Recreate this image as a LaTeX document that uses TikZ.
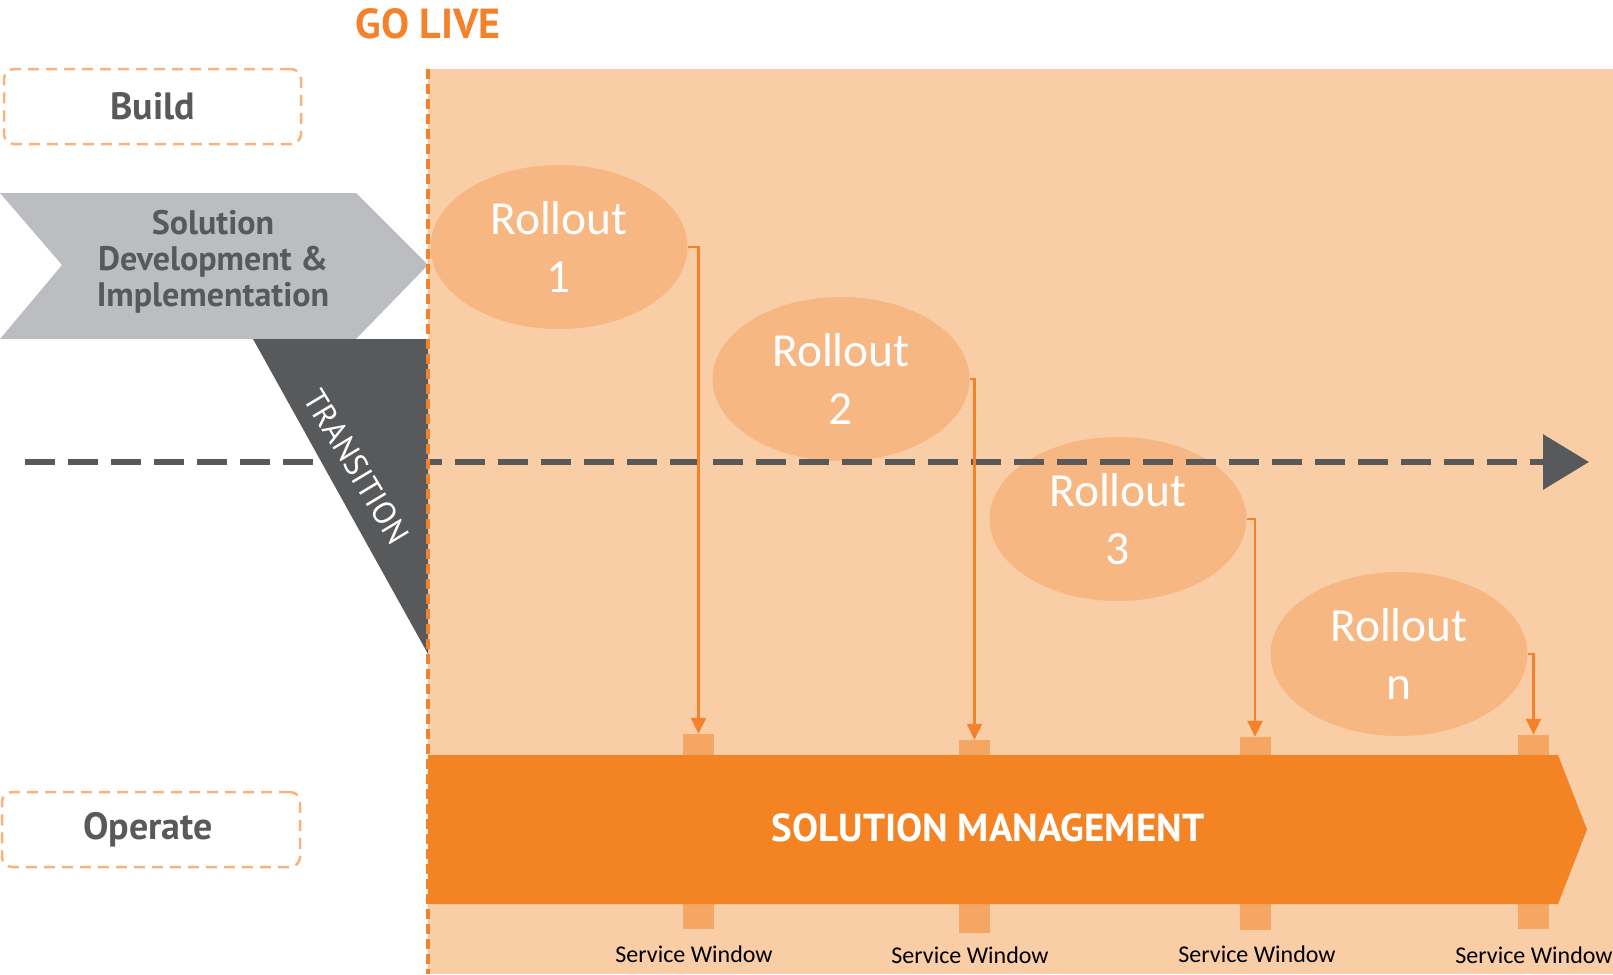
\documentclass[tikz,border=0pt]{standalone}
\usepackage{fontspec}
\setmainfont{Carlito}
\newfontfamily\dinfont{PT Sans}
\usetikzlibrary{shapes.geometric,arrows.meta}
\definecolor{peach}{HTML}{F9CDA6}
\definecolor{ellfill}{HTML}{F7B782}
\definecolor{tabfill}{HTML}{F5A663}
\definecolor{barfill}{HTML}{F48324}
\definecolor{darkgray}{HTML}{58595B}
\definecolor{lightgray}{HTML}{BCBDC0}
\definecolor{boxline}{HTML}{F8B27C}
\definecolor{golive}{HTML}{F4822A}
\begin{document}
\begin{tikzpicture}[x=1pt,y=-1pt,
  rollout/.style={ellipse, fill=ellfill, minimum width=257pt, minimum height=164pt, inner sep=0pt, text=white, align=center, font=\fontsize{47.5}{58}\selectfont},
  phasebox/.style={draw=boxline, line width=2.5pt, dash pattern=on 11pt off 7pt, rounded corners=10pt, text=darkgray, font=\dinfont\bfseries\fontsize{38}{42}\selectfont, inner sep=0pt},
  tabbox/.style={fill=tabfill, minimum width=31pt, inner sep=0pt},
  swlabel/.style={font=\fontsize{24}{27}\selectfont, text=black, inner sep=0pt},
  conn/.style={draw=golive, line width=2.2pt, -{Triangle[length=16pt,width=15pt]}}
]
\useasboundingbox (0,0) rectangle (1613,974);
% background region after go live
\fill[peach] (428,69) rectangle (1613,974);
% title
\node[anchor=base, text=golive, font=\dinfont\bfseries\fontsize{42}{46}\selectfont, inner sep=0pt] (golive) at (428,38) {GO LIVE};
% phase boxes
\node[phasebox, minimum width=297pt, minimum height=75pt] (build) at (152.5,106.5) {Build};
\node[phasebox, minimum width=298pt, minimum height=75pt] (operate) at (151,829.5) {\hspace{-6pt}Operate};
% chevron
\fill[lightgray] (0,193) -- (356,193) -- (428,265) -- (356,339) -- (0,339) -- (62,265) -- cycle;
\node[align=center, text=darkgray, font=\dinfont\bfseries\fontsize{34}{36}\selectfont, inner sep=0pt] (sol) at (213,262) {Solution\\Development \&\\Implementation};
% rollouts
\node[rollout] (r1) at (559,247) {Rollout\\1};
\node[rollout] (r2) at (841,379) {Rollout\\2};
\node[rollout] (r3) at (1118,519) {Rollout\\3};
\node[rollout] (rn) at (1399,654) {Rollout\\n};
% timeline
\coordinate (ls) at (25,462);
\coordinate (le) at (1589,462);
\draw[darkgray, line width=6.5pt, dash pattern=on 30pt off 13pt, -{Triangle[length=46pt,width=54pt]}] (ls) -- (le);
% transition triangle
\fill[darkgray] (253,339) -- (428,339) -- (428,654) -- cycle;
\node[rotate=-59, text=white, font=\dinfont\fontsize{32}{34}\selectfont, inner sep=0pt] (trans) at (357,467) {TRANSITION};
% go live line
\coordinate (gl1) at (428,69);
\coordinate (gl2) at (428,974);
\draw[golive, line width=4pt, dash pattern=on 10pt off 5pt] (gl1) -- (gl2);
% service window tabs
\node[tabbox, minimum height=21pt] (t1) at (698.5,744.5) {};
\node[tabbox, minimum height=15pt] (t2) at (974.5,747.5) {};
\node[tabbox, minimum height=18pt] (t3) at (1255,746) {};
\node[tabbox, minimum height=20pt] (tn) at (1533.5,745) {};
\node[tabbox, minimum height=25pt] (b1) at (698.5,916.5) {};
\node[tabbox, minimum height=29pt] (b2) at (974.5,918.5) {};
\node[tabbox, minimum height=26pt] (b3) at (1255,917) {};
\node[tabbox, minimum height=25pt] (bn) at (1533.5,916.5) {};
% connectors
\draw[conn] (r1.east) -| (t1.north);
\draw[conn] (r2.east) -| (t2.north);
\draw[conn] (r3.east) -| (t3.north);
\draw[conn] (rn.east) -| (tn.north);
% solution management bar
\fill[barfill] (428,755) -- (1558,755) -- (1587,829.5) -- (1558,904) -- (428,904) -- cycle;
\node[text=white, font=\dinfont\bfseries\fontsize{39}{43}\selectfont, inner sep=0pt] (sm) at (988,828) {SOLUTION MANAGEMENT};
% labels
\node[swlabel] (sw1) at (694,954) {Service Window};
\node[swlabel] (sw2) at (970,955) {Service Window};
\node[swlabel] (sw3) at (1257,954) {Service Window};
\node[swlabel] (swn) at (1534,955) {Service Window};
\end{tikzpicture}
\end{document}
